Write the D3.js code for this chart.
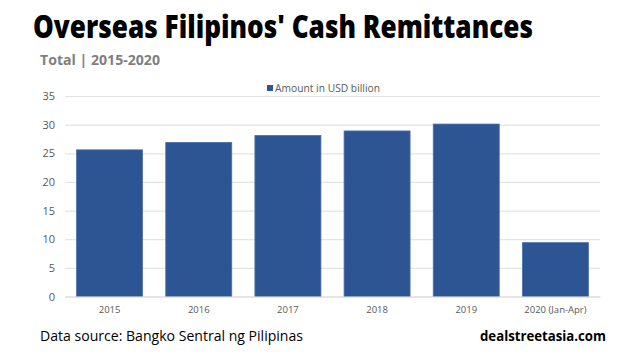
<!DOCTYPE html>
<html><head><meta charset="utf-8">
<script src="https://cdn.jsdelivr.net/npm/d3@7"></script>
<style>body{margin:0;background:#fff}svg{display:block}</style>
</head><body>
<svg id="c" width="640" height="357"></svg>
<script>
const categories = ["2015","2016","2017","2018","2019","2020 (Jan-Apr)"];
const values = [25.6, 26.9, 28.1, 28.9, 30.1, 9.4];
const yTicks = [0,5,10,15,20,25,30,35];
const seriesName = "Amount in USD billion";

const svg = d3.select("#c");
const W = 640, H = 357;
const m = {left:65, right:40, top:96, bottom:60};
const x = d3.scaleBand().domain(categories).range([m.left, 600]).paddingInner(0.26).paddingOuter(0.13);
const y = d3.scaleLinear().domain([0,35]).range([296.5, 96]);

svg.append("rect").attr("width",W).attr("height",H).attr("fill","#fff");

svg.append("text").attr("x",33).attr("y",38).attr("font-family","'Open Sans', sans-serif")
  .attr("font-weight",800).attr("font-size",31).attr("fill","#000")
  .attr("textLength",500).attr("lengthAdjust","spacingAndGlyphs")
  .text("Overseas Filipinos' Cash Remittances");
svg.append("text").attr("x",40).attr("y",65).attr("font-family","'Open Sans', sans-serif")
  .attr("font-weight","bold").attr("font-size",14.5).attr("fill","#7f7f7f")
  .attr("textLength",120).attr("lengthAdjust","spacingAndGlyphs")
  .text("Total | 2015-2020");

// grid
const gy = svg.append("g").attr("class","y-axis")
  .call(d3.axisLeft(y).tickValues(yTicks).tickSize(-(600-m.left)).tickPadding(10))
  .attr("transform",`translate(${m.left},0)`);
gy.select(".domain").remove();
gy.selectAll(".tick line").attr("stroke","#e3e3e3").attr("stroke-width",1.2);
gy.selectAll(".tick text").attr("font-family","'Open Sans', sans-serif").attr("font-size",11).attr("fill","#595959");

svg.append("g").selectAll("rect").data(values).join("rect")
  .attr("x",(d,i)=>x(categories[i])).attr("y",d=>y(d))
  .attr("width",x.bandwidth()).attr("height",d=>y(0)-y(d))
  .attr("fill","#2e5593").attr("stroke","#4a6eab").attr("stroke-width",0.8);

const gx = svg.append("g").attr("transform",`translate(0,${y(0)})`)
  .call(d3.axisBottom(x).tickSize(0).tickPadding(10));
gx.select(".domain").attr("stroke","#d9d9d9");
gx.selectAll(".tick text").attr("font-family","'Open Sans', sans-serif").attr("font-size",9.5).attr("fill","#595959");

// legend
svg.append("rect").attr("x",267).attr("y",85).attr("width",6).attr("height",6).attr("fill","#2e5593");
svg.append("text").attr("x",275).attr("y",91.5).attr("font-family","'Open Sans', sans-serif")
  .attr("font-size",10).attr("fill","#595959").attr("textLength",105).attr("lengthAdjust","spacingAndGlyphs")
  .text(seriesName);

svg.append("text").attr("x",40).attr("y",341).attr("font-family","'Open Sans', sans-serif")
  .attr("font-size",15).attr("fill","#000").attr("textLength",263).attr("lengthAdjust","spacingAndGlyphs")
  .text("Data source: Bangko Sentral ng Pilipinas");
svg.append("text").attr("x",480).attr("y",341).attr("font-family","'Open Sans', sans-serif")
  .attr("font-weight","bold").attr("font-size",15).attr("fill","#000")
  .attr("textLength",126).attr("lengthAdjust","spacingAndGlyphs")
  .text("dealstreetasia.com");
</script>
</body></html>
